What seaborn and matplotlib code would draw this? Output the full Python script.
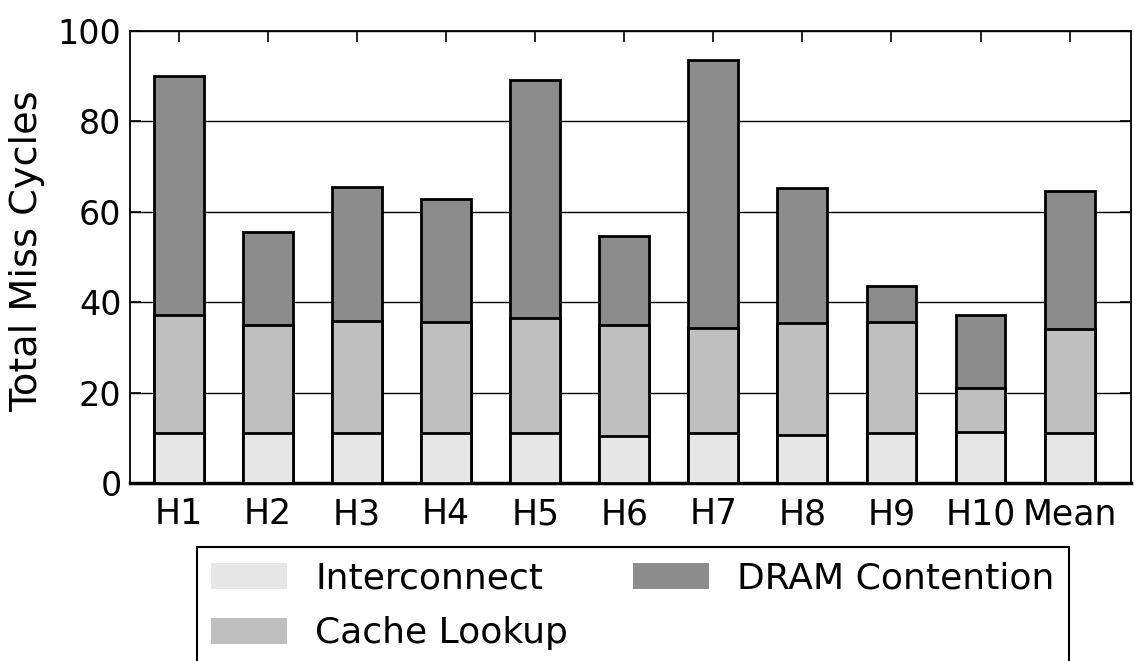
import numpy as np
import pandas as pd
import seaborn as sns
import matplotlib.pyplot as plt
from matplotlib.patches import Patch

CATEGORIES = ['H1', 'H2', 'H3', 'H4', 'H5', 'H6', 'H7', 'H8', 'H9', 'H10', 'Mean']
INTERCONNECT = [11.0, 11.05, 11.2, 11.05, 11.2, 10.45, 11.0, 10.75, 11.2, 11.4, 11.05]
CACHE_LOOKUP = [26.1, 23.85, 24.75, 24.65, 25.3, 24.45, 23.4, 24.75, 24.5, 9.7, 23.15]
DRAM_CONTENTION = [53.0, 20.7, 29.65, 27.1, 52.6, 19.7, 59.2, 29.7, 7.9, 16.0, 30.5]

COLORS = {'Interconnect': '#e6e6e6', 'Cache Lookup': '#bfbfbf', 'DRAM Contention': '#8c8c8c'}

sns.set_theme(style='white')
plt.rcParams['font.family'] = ['DejaVu Sans']
plt.rcParams['font.size'] = 24
plt.rcParams['text.color'] = 'black'
plt.rcParams['axes.labelcolor'] = 'black'
plt.rcParams['xtick.color'] = 'black'
plt.rcParams['ytick.color'] = 'black'

df = pd.DataFrame({
    'bench': CATEGORIES,
    'Interconnect': INTERCONNECT,
    'Cache Lookup': CACHE_LOOKUP,
    'DRAM Contention': DRAM_CONTENTION,
})
# cumulative tops, drawn back to front so they look stacked
df['top_inter'] = df['Interconnect']
df['top_cache'] = df['top_inter'] + df['Cache Lookup']
df['top_dram'] = df['top_cache'] + df['DRAM Contention']

fig, ax = plt.subplots(figsize=(11.35, 6.61), dpi=100)
fig.subplots_adjust(left=0.1145, right=0.9965, top=0.953, bottom=0.269)

for col, name in [('top_dram', 'DRAM Contention'), ('top_cache', 'Cache Lookup'), ('top_inter', 'Interconnect')]:
    sns.barplot(data=df, x='bench', y=col, color=COLORS[name], saturation=1,
                width=0.56, edgecolor='black', linewidth=2, ax=ax, zorder=3)

ax.set_ylim(0, 100)
ax.set_xlim(-0.55, 10.69)
ax.set_yticks(np.arange(0, 101, 20))
ax.yaxis.grid(True, color='black', linewidth=1, linestyle='-')
ax.set_axisbelow(True)
ax.set_xlabel('')
ax.set_ylabel('Total Miss Cycles', fontsize=27.5)
ax.yaxis.set_label_coords(-0.085, 0.513)

for side in ['left', 'right', 'top', 'bottom']:
    ax.spines[side].set_color('black')
    ax.spines[side].set_linewidth(1.3)
ax.spines['bottom'].set_linewidth(2.5)
ax.tick_params(axis='both', direction='in', length=8, width=1.2, color='black',
               top=True, right=True, bottom=True, left=True, labelsize=24)
ax.tick_params(axis='x', pad=10, labelsize=25)
ax.tick_params(axis='y', pad=6)

handles = [Patch(facecolor=COLORS[k], edgecolor='none', label=k)
           for k in ['Interconnect', 'Cache Lookup', 'DRAM Contention']]
leg = fig.legend(handles=handles, ncol=2, loc='upper left',
                 bbox_to_anchor=(197 / 1135, 1 - 547 / 661), borderaxespad=0,
                 fontsize=26, frameon=True, fancybox=False, framealpha=1,
                 handlelength=2.1, handleheight=0.75, handletextpad=0.78,
                 labelspacing=0.58, columnspacing=1.8, borderpad=0.4)
leg.get_frame().set_edgecolor('black')
leg.get_frame().set_linewidth(1.5)

fig.savefig('out.png', dpi=100)
